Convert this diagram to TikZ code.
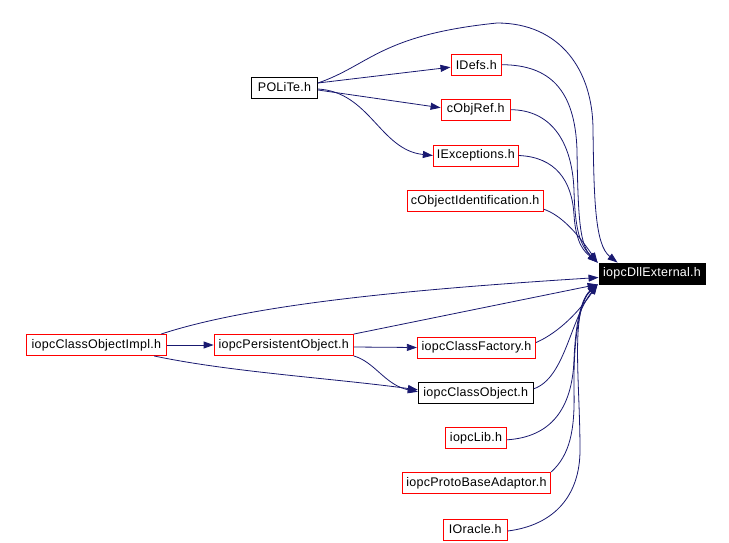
\documentclass[tikz,border=0pt]{standalone}
\usepackage{fontspec}
\setmainfont{Liberation Sans}[LetterSpace=2]
\usetikzlibrary{arrows.meta,calc}
\definecolor{edgeblue}{HTML}{191970}
\begin{document}
\begin{tikzpicture}[x=1pt,y=-1pt,
  box/.style={draw=red,line width=0.9pt,rectangle,inner sep=0pt,minimum height=21pt,font=\fontsize{12.5}{14}\selectfont,text=black},
  bbox/.style={box,draw=black},
  dbox/.style={box,draw=black,fill=black,text=white},
  e/.style={draw=edgeblue,line width=0.8pt,-{Triangle[length=10pt,width=7pt]}}]
\useasboundingbox (0,0) rectangle (729,542);
\node[bbox,minimum width=66pt] (polite) at (284.5,87.5) {POLiTe.h};
\node[box,minimum width=50.7pt] (idefs) at (476.3,64.7) {IDefs.h};
\node[box,minimum width=69.3pt] (cobjref) at (475.7,109.7) {cObjRef.h};
\node[box,minimum width=85pt] (iexc) at (475.8,155.5) {IExceptions.h};
\node[box,minimum width=136.3pt] (cobjid) at (475.2,201.2) {cObjectIdentification.h};
\node[dbox,minimum width=106pt] (dll) at (652,273.5) {iopcDllExternal.h};
\node[box,minimum width=140.7pt] (impl) at (96.3,345) {iopcClassObjectImpl.h};
\node[box,minimum width=139.3pt] (pers) at (283.7,345) {iopcPersistentObject.h};
\node[box,minimum width=118.3pt] (cfac) at (476.5,347.5) {iopcClassFactory.h};
\node[bbox,minimum width=115pt] (cobj) at (475.8,392.8) {iopcClassObject.h};
\node[box,minimum width=61.3pt] (lib) at (476,437.8) {iopcLib.h};
\node[box,minimum width=148.3pt] (proto) at (476.5,483) {iopcProtoBaseAdaptor.h};
\node[box,minimum width=64pt] (orac) at (475.3,529.5) {IOracle.h};
% POLiTe edges
\draw[e] ($(polite.east)+(0,-4.5)$) -- ($(idefs.west)+(0,2.5)$);
\draw[e] ($(polite.east)+(0,2.5)$) -- ($(cobjref.west)+(0,-2)$);
\draw[e] ($(polite.east)+(0,1.5)$) .. controls (370,92) and (380,150) .. (iexc.west);
\draw[e] ($(polite.east)+(0,-4.5)$) .. controls (370,65) and (380,35) .. (497,23)
  .. controls (560,23) and (593,70) .. (593,130)
  .. controls (594,200) and (595,245) .. ($(dll.north west)+(19,0)$);
% upper group into dll
\draw[e] (idefs.east) .. controls (550,65) and (575,90) .. (577,150)
  .. controls (578,220) and (580,245) .. ($(dll.north west)+(-1,0)$);
\draw[e] (cobjref.east) .. controls (550,110) and (572,140) .. (574,190)
  .. controls (575,230) and (580,245) .. ($(dll.north west)+(-1,0)$);
\draw[e] (iexc.east) .. controls (555,157) and (572,180) .. (574,215)
  .. controls (576,245) and (585,252) .. ($(dll.north west)+(-1,0)$);
\draw[e] ($(cobjid.east)+(0,8)$) .. controls (560,215) and (575,230) .. ($(dll.north west)+(-1,0)$);
% lower group
\draw[e] ($(impl.north east)+(-6,0)$) .. controls (250,305) and (400,290) .. ($(dll.west)+(0,4)$);
\draw[e] (impl.east) -- (pers.west);
\draw[e] ($(impl.south east)+(-13,0)$) .. controls (230,372) and (330,378) .. ($(cobj.west)+(0,-3)$);
\draw[e] (pers.north east) -- ($(dll.south west)+(-1,0)$);
\draw[e] ($(pers.east)+(0,2)$) -- (cfac.west);
\draw[e] (pers.south east) .. controls (375,362) and (385,385) .. ($(cobj.west)+(0,-1)$);
\draw[e] ($(cfac.east)+(0,-5)$) .. controls (560,332) and (580,310) .. ($(dll.south west)+(-1,0)$);
\draw[e] ($(cobj.east)+(0,-4)$) .. controls (565,378) and (570,320) .. ($(dll.south west)+(-1,0)$);
\draw[e] ($(lib.east)+(0,2)$) .. controls (550,437) and (572,410) .. (574,360)
  .. controls (576,310) and (585,295) .. ($(dll.south west)+(-1,0)$);
\draw[e] (proto.north east) .. controls (570,455) and (575,430) .. (574,390)
  .. controls (573,320) and (585,295) .. ($(dll.south west)+(-1,0)$);
\draw[e] ($(orac.east)+(0,1.5)$) .. controls (555,525) and (580,495) .. (580,450)
  .. controls (580,380) and (570,310) .. ($(dll.south west)+(-1,0)$);
\end{tikzpicture}
\end{document}
